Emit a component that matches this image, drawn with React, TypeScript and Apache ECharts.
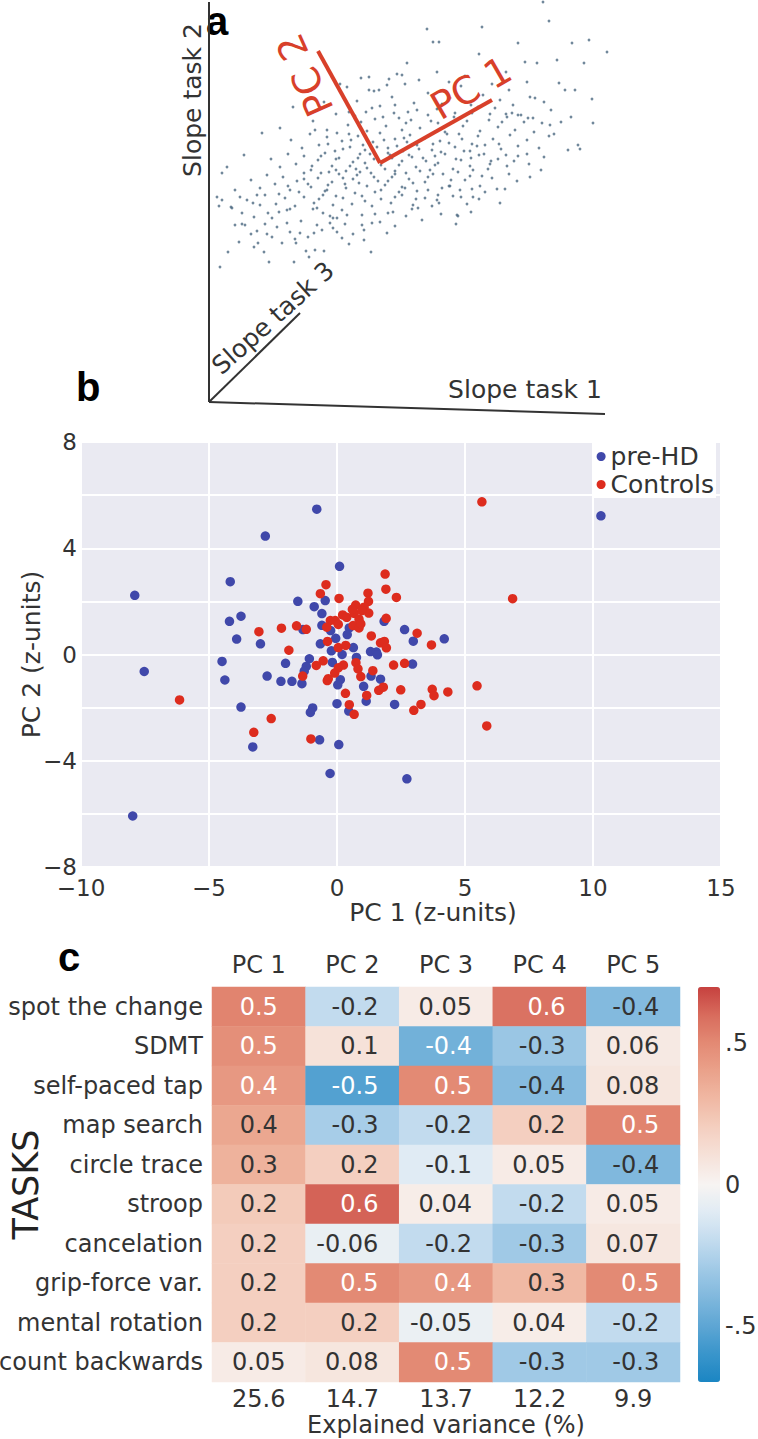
import React, { useEffect, useRef } from 'react';
import * as echarts from 'echarts';

const FONT = 'DejaVu Sans';
const TEXT = '#333333';

// ---------- panel a: illustrative cloud (slope task 1 vs slope task 2, arbitrary units) ----------
const cloudPoints: [number, number][] = [
  [334,400],[340,381],[218,373],[273,375],[224,360],[230,360],[309,359],[363,359],[270,348],[348,342],
  [316,340],[328,339],[198,339],[152,324],[188,328],[193,327],[180,323],[170,312],[165,311],[138,315],
  [350,319],[356,312],[366,312],[321,305],[326,304],[342,292],[362,285],[333,279],[341,277],[324,284],
  [319,284],[309,287],[298,285],[303,289],[291,302],[84,295],[106,272],[71,274],[53,269],[35,247],
  [18,235],[13,229],[8,205],[13,202],[26,212],[23,194],[33,189],[38,202],[48,207],[51,197],
  [59,189],[63,184],[359,252],[369,257],[321,225],[291,199],[276,210],[248,187],[264,205],[228,202],
  [380,362],[398,350],[375,339],[383,303],[384,279],[371,253],
  [11,135],[19,150],[26,177],[33,178],[36,177],[42,168],[48,171],[45,155],[49,159],[58,168],
  [63,165],[68,175],[73,159],[78,179],[81,170],[86,163],[87,159],[91,169],[99,165],[97,151],
  [106,152],[115,151],[105,169],[108,177],[121,179],[124,174],[133,164],[128,170],[121,186],[124,184],
  [128,184],[153,177],[155,172],[155,162],[163,179],[171,180],[162,150],[178,169],[249,186],[247,178],
  [223,196],[209,194],[203,193],[179,189],[184,190],[153,187],[138,187],[133,192],[114,189],[108,194],
  [104,193],[78,192],[81,193],[22,195],[10,196],
  [131,318],[148,301],[160,312],[171,296],[183,305],[196,318],[205,299],[219,309],[228,293],[241,304],
  [252,316],[262,297],[274,307],[286,294],[240,320],[199,290],[157,290],[115,300],[300,312],
  [104,281],[118,272],[127,288],[139,277],[146,286],[158,271],[166,283],[177,276],[185,289],[193,272],
  [202,282],[211,274],[219,287],[229,279],[236,270],[245,285],[254,276],[263,289],[271,271],[280,282],
  [289,275],[297,288],[306,272],[315,280],[325,270],[140,268],[190,284],[250,268],
  [82,262],[93,254],[101,268],[110,257],[118,265],[126,251],[133,261],[141,255],[149,266],[156,252],
  [164,260],[171,269],[179,254],[186,263],[194,251],[201,267],[208,257],[216,264],[223,252],[231,261],
  [238,268],[246,255],[253,263],[261,251],[269,266],[276,257],[284,263],[292,253],[301,267],[309,256],
  [318,262],[330,254],[340,266],[128,269],[198,260],[263,258],
  [62,243],[71,235],[79,248],[87,238],[95,246],[102,232],[109,242],[116,249],[123,236],[130,244],
  [137,231],[144,240],[151,248],[158,234],[165,243],[172,237],[179,249],[186,231],[193,241],[200,247],
  [207,235],[214,244],[221,232],[229,239],[236,248],[244,233],[252,242],[261,236],[270,247],[279,233],
  [289,243],[298,236],[309,246],[320,238],[332,232],[147,233],[183,244],[226,246],
  [42,222],[51,214],[58,227],[66,218],[74,225],[81,212],[88,221],[95,229],[102,215],[109,224],
  [116,211],[123,220],[130,228],[137,214],[144,223],[151,230],[158,216],[165,225],[172,212],[179,221],
  [186,228],[193,215],[200,223],[208,211],[216,220],[224,228],[233,214],[242,222],[251,212],[261,226],
  [271,216],[283,224],[296,213],[308,221],[120,230],[190,210],[150,219],
  [31,205],[44,199],[56,207],[67,198],[76,204],[86,196],[95,205],[105,199],[114,207],[124,197],
  [134,204],[143,198],[153,206],[163,196],[172,203],[182,199],[193,207],[204,197],[216,204],[230,199],
  [244,206],[258,198],[270,203],
  [112,246],[119,258],[127,243],[134,253],[142,262],[149,244],[154,257],[161,248],[168,255],[175,262],
  [181,247],[188,256],[195,264],[203,245],[210,253],[217,241],[224,258],[232,250],[240,259],[247,243],
  [255,251],[262,244],[268,256],[275,248],[282,241],[290,258],[297,247],[305,241],
  [95,223],[103,236],[112,229],[119,217],[127,232],[134,224],[141,236],[148,227],[156,239],[162,229],
  [169,221],[176,233],[183,225],[190,237],[197,229],[204,219],[211,231],[219,225],[226,237],[234,228],
  [241,216],[249,230],[256,222],[264,232],[273,226],[281,238],
  [70,208],[79,216],[90,210],[99,218],[110,203],[118,212],[127,206],[136,218],[146,209],[156,201],
  [166,210],[176,217],[186,205],[196,214],[207,203],[219,212],[229,207],[240,216],[252,205],[263,213],
  [140,290],[152,280],[163,294],[174,285],[186,297],[197,279],[208,292],[222,281],[233,298],[246,289],
  [258,281],[269,295],[281,288],[293,280],[304,297],[312,287],
  [160,325],[178,317],[210,322],[228,330],[256,326],[283,318],[297,330],[318,320],
  [45,185],[56,178],[70,190],[92,181],[113,172],[136,178],[144,168],[166,188],[186,176],[197,186],
  [213,182],[232,188],[30,160],[55,150],[85,140],[60,140],[100,145],[140,158],
  [335,300],[345,268],[352,280],[318,248],[335,245],[300,228],[288,213],[262,190]
];
const axisTask2: [number, number][] = [[0, 400], [0, 0]];
const axisTask1: [number, number][] = [[0, 0], [396, -12]];
const axisTask3: [number, number][] = [[0, 0], [91, 89]];
const pc1Line: [number, number][] = [[171, 239], [283, 302]];
const pc2Line: [number, number][] = [[171, 239], [109, 351]];

// ---------- panel b: PC scores ----------
const preHD: [number, number][] = [
  [-0.79,5.47],[-2.8,4.46],[0.1,3.32],[-4.17,2.74],[-1.53,2.0],[-0.46,2.03],[-0.89,1.8],[-0.59,1.54],
  [-3.75,1.44],[-4.2,1.25],[-1.33,0.94],[-0.59,1.1],[-0.25,0.9],[0.48,1.0],[0.4,0.75],[-0.05,0.61],
  [-3.92,0.58],[-2.99,0.4],[-0.65,0.4],[-0.22,0.14],[0.2,0.0],[0.64,0.26],[0.76,-0.11],[1.31,0.11],
  [1.54,0.09],[1.58,-0.01],[1.84,1.25],[2.64,0.94],[2.98,0.5],[4.19,0.59],[-4.49,-0.26],[-4.38,-0.96],
  [-2.01,-0.33],[-2.73,-0.81],[-2.19,-1.01],[-1.76,-1.01],[-1.37,-1.1],[-1.08,-0.16],[-1.2,-0.45],
  [-1.28,-0.63],[-0.18,-0.3],[0.13,-0.95],[0.03,-1.14],[1.33,-0.81],[1.7,-0.93],[1.04,-1.2],[1.14,-1.76],
  [0.0,-1.85],[0.46,-2.13],[2.25,-1.88],[2.95,-0.36],[-3.75,-1.98],[-0.95,-2.01],[-1.04,-2.18],
  [-0.68,-3.21],[0.07,-3.39],[-3.29,-3.48],[-0.27,-4.48],[2.73,-4.68],[-7.9,2.23],[-7.53,-0.64],
  [-7.98,-6.08],[10.31,5.22]
];
const controls: [number, number][] = [
  [1.88,3.03],[-0.43,2.63],[-0.65,2.29],[0.08,2.11],[1.21,2.31],[1.91,2.46],[2.32,2.15],[1.23,2.0],
  [0.73,1.86],[1.06,1.78],[1.24,1.56],[0.22,1.49],[0.38,1.4],[0.67,1.55],[0.86,1.33],[-0.26,1.28],
  [-0.07,1.28],[0.05,1.13],[-0.4,1.03],[0.63,1.09],[0.86,1.0],[1.92,1.36],[-3.05,0.86],[-2.17,0.99],
  [-1.58,1.08],[-1.2,0.95],[-1.88,0.16],[-0.37,0.49],[0.05,0.26],[0.34,0.34],[1.34,0.7],[1.7,0.44],
  [1.85,0.49],[1.93,0.25],[3.13,0.8],[3.69,0.36],[-0.54,-0.24],[-0.81,-0.41],[0.25,-0.4],[-0.09,-0.7],
  [-0.34,-0.91],[-0.38,-0.98],[-1.34,-0.81],[0.74,-0.31],[0.82,-0.54],[0.93,-0.83],[1.4,-0.61],
  [2.21,-0.4],[2.64,-0.33],[1.63,-1.35],[1.81,-1.23],[1.16,-1.54],[0.33,-1.46],[0.48,-1.89],
  [0.67,-2.25],[2.49,-1.33],[3.72,-1.31],[3.79,-1.55],[4.33,-1.41],[3.28,-1.88],[3.0,-2.1],
  [-2.57,-2.41],[-3.25,-2.93],[-1.02,-3.18],[-6.15,-1.71],[5.66,5.75],[6.86,2.1],[5.47,-1.18],
  [5.85,-2.69],[0.97,1.65],[0.6,1.7],[0.93,1.15],[0.05,-0.5]
];

// ---------- panel c: loadings ----------
const tasks = ['spot the change','SDMT','self-paced tap','map search','circle trace','stroop',
  'cancelation','grip-force var.','mental rotation','count backwards'];
const pcs = ['PC 1','PC 2','PC 3','PC 4','PC 5'];
const variance = ['25.6','14.7','13.7','12.2','9.9'];
const loadings: number[][] = [
  [0.52, -0.2, 0.05, 0.58, -0.39],
  [0.48, 0.1, -0.44, -0.32, 0.06],
  [0.44, -0.53, 0.5, -0.38, 0.08],
  [0.38, -0.28, -0.2, 0.2, 0.52],
  [0.33, 0.2, -0.1, 0.05, -0.4],
  [0.22, 0.62, 0.04, -0.2, 0.05],
  [0.2, -0.06, -0.2, -0.3, 0.07],
  [0.2, 0.5, 0.44, 0.3, 0.5],
  [0.2, 0.2, -0.05, 0.04, -0.2],
  [0.05, 0.08, 0.5, -0.3, -0.3]
];
const cbarTicks = [-0.5, 0, 0.5];
const cbarTickLabels = ['-.5', '0', '.5'];
const cmap = ['#1b86c3','#3a95cb','#5ea6d4','#80b8dd','#a0c9e6','#c2dbee','#e0ebf4','#f7f4f2',
  '#f6e2d9','#f4cfc0','#f0b9a4','#eaa28b','#e38a74','#d86c5d','#c6413f'];

const minusFmt = (v: number) => (v < 0 ? '\u2212' + Math.abs(v) : String(v));

export default function App() {
  const ref = useRef<HTMLDivElement>(null);
  useEffect(() => {
    if (!ref.current) return;
    const chart = echarts.init(ref.current, null, { renderer: 'svg' });

    const heatData: any[] = [];
    loadings.forEach((row, r) => {
      row.forEach((v, c) => {
        const white = Math.abs(v) >= 0.42;
        heatData.push({
          value: [c, r, v],
          label: c === 0
            ? { color: white ? '#ffffff' : TEXT }
            : { color: white ? '#ffffff' : TEXT, align: 'right', offset: [26, 0] }
        });
      });
    });

    const axisLineStyle = { color: '#333333', width: 2 };
    const redLine = { color: '#d8402a', width: 4 };

    chart.setOption({
      animation: false,
      textStyle: { fontFamily: FONT, color: TEXT },
      grid: [
        { left: 209, top: 0, width: 400, height: 417, outerBoundsMode: 'none', containLabel: false },
        { left: 81, top: 442, width: 640, height: 425, show: true, backgroundColor: '#eaeaf2', borderWidth: 0, outerBoundsMode: 'none', containLabel: false },
        { left: 212, top: 987, width: 468, height: 395, outerBoundsMode: 'none', containLabel: false },
        { left: 698, top: 902.36, width: 22, height: 564.29, outerBoundsMode: 'none', containLabel: false }
      ],
      xAxis: [
        { gridIndex: 0, type: 'value', min: 0, max: 400, show: false },
        {
          gridIndex: 1, type: 'value', min: -10, max: 15, interval: 5,
          axisLine: { show: false }, axisTick: { show: false },
          splitLine: { show: true, lineStyle: { color: '#ffffff', width: 2 } },
          axisLabel: { fontSize: 23, color: TEXT, margin: 9, formatter: minusFmt, fontFamily: FONT },
          name: 'PC 1 (z-units)', nameLocation: 'middle', nameGap: 33, nameMoveOverlap: false,
          nameTextStyle: { fontSize: 25, color: TEXT, fontFamily: FONT, padding: [0, 0, 0, 64] }
        },
        {
          gridIndex: 2, type: 'category', data: pcs, position: 'top',
          axisLine: { show: false }, axisTick: { show: false }, splitLine: { show: false },
          axisLabel: { fontSize: 24, color: TEXT, margin: 10, fontFamily: FONT }
        },
        {
          gridIndex: 2, type: 'category', data: variance, position: 'bottom',
          axisLine: { show: false }, axisTick: { show: false }, splitLine: { show: false },
          axisLabel: { fontSize: 24, color: TEXT, margin: 5, fontFamily: FONT },
          name: 'Explained variance (%)', nameLocation: 'middle', nameGap: 31, nameMoveOverlap: false,
          nameTextStyle: { fontSize: 24, color: TEXT, fontFamily: FONT }
        },
        { gridIndex: 3, type: 'value', min: 0, max: 1, show: false }
      ],
      yAxis: [
        { gridIndex: 0, type: 'value', min: -15, max: 402, show: false },
        {
          gridIndex: 1, type: 'value', min: -8, max: 8, interval: 2,
          axisLine: { show: false }, axisTick: { show: false },
          splitLine: { show: true, lineStyle: { color: '#ffffff', width: 2 } },
          axisLabel: {
            fontSize: 23, color: TEXT, margin: 4, fontFamily: FONT,
            formatter: (v: number) => (v % 4 === 0 ? minusFmt(v) : '')
          },
          name: 'PC 2 (z-units)', nameLocation: 'middle', nameGap: 37, nameRotate: 90, nameMoveOverlap: false,
          nameTextStyle: { fontSize: 25, color: TEXT, fontFamily: FONT }
        },
        {
          gridIndex: 2, type: 'category', data: tasks, inverse: true,
          axisLine: { show: false }, axisTick: { show: false }, splitLine: { show: false },
          axisLabel: { fontSize: 24, color: TEXT, margin: 9, fontFamily: FONT },
          name: 'TASKS', nameLocation: 'middle', nameGap: 169, nameRotate: 90, nameMoveOverlap: false,
          nameTextStyle: { fontSize: 35, color: '#222222', fontFamily: FONT }
        },
        {
          gridIndex: 3, type: 'value', min: -1, max: 1, interval: 0.5, position: 'right',
          axisLine: { show: false }, axisTick: { show: false }, splitLine: { show: false },
          axisLabel: {
            fontSize: 24, color: TEXT, margin: 5, fontFamily: FONT,
            formatter: (v: number) => {
              const i = cbarTicks.findIndex((t) => Math.abs(t - v) < 1e-9);
              return i >= 0 ? cbarTickLabels[i] : '';
            }
          }
        }
      ],
      legend: {
        data: ['pre-HD', 'Controls'], orient: 'vertical', right: 42, top: 443,
        backgroundColor: '#ffffff', padding: [1, 2, 1, 4], itemGap: 3,
        itemWidth: 9, itemHeight: 9, icon: 'circle',
        textStyle: { fontSize: 25, color: TEXT, fontFamily: FONT }
      },
      visualMap: {
        type: 'continuous', min: -0.7, max: 0.7, seriesIndex: 8,
        left: 698, top: 987, itemWidth: 22, itemHeight: 395, padding: 0,
        calculable: false, hoverLink: false, inRange: { color: cmap }
      },
      series: [
        {
          type: 'scatter', xAxisIndex: 0, yAxisIndex: 0, data: cloudPoints,
          symbolSize: 2.8, itemStyle: { color: '#4d6a82' }, silent: true
        },
        { type: 'line', xAxisIndex: 0, yAxisIndex: 0, data: axisTask2, symbol: 'none', lineStyle: axisLineStyle, silent: true },
        { type: 'line', xAxisIndex: 0, yAxisIndex: 0, data: axisTask1, symbol: 'none', lineStyle: axisLineStyle, silent: true },
        { type: 'line', xAxisIndex: 0, yAxisIndex: 0, data: axisTask3, symbol: 'none', lineStyle: axisLineStyle, silent: true },
        { type: 'line', xAxisIndex: 0, yAxisIndex: 0, data: pc1Line, symbol: 'none', lineStyle: redLine, silent: true, z: 5 },
        { type: 'line', xAxisIndex: 0, yAxisIndex: 0, data: pc2Line, symbol: 'none', lineStyle: redLine, silent: true, z: 5 },
        {
          name: 'pre-HD', type: 'scatter', xAxisIndex: 1, yAxisIndex: 1, data: preHD,
          symbolSize: 9.5, itemStyle: { color: '#4048aa', opacity: 1 }
        },
        {
          name: 'Controls', type: 'scatter', xAxisIndex: 1, yAxisIndex: 1, data: controls,
          symbolSize: 9.5, itemStyle: { color: '#dd2c1e', opacity: 1 }
        },
        {
          type: 'heatmap', xAxisIndex: 2, yAxisIndex: 2, data: heatData,
          label: {
            show: true, fontSize: 24, fontFamily: FONT,
            formatter: (p: any) => Number(p.value[2]).toPrecision(1)
          },
          emphasis: { disabled: true }
        }
      ],
      graphic: [
        { type: 'text', x: 206, y: 41, style: { text: 'a', fill: '#000', font: 'bold 40px "Liberation Sans"', align: 'left', verticalAlign: 'bottom' } },
        { type: 'text', x: 76, y: 387, style: { text: 'b', fill: '#000', font: 'bold 40px "Liberation Sans"', align: 'left', verticalAlign: 'middle' } },
        { type: 'text', x: 58, y: 957, style: { text: 'c', fill: '#000', font: 'bold 40px "Liberation Sans"', align: 'left', verticalAlign: 'middle' } },
        { type: 'text', x: 192, y: 100, rotation: Math.PI / 2, style: { text: 'Slope task 2', fill: TEXT, font: '25px "DejaVu Sans"', align: 'center', verticalAlign: 'middle' } },
        { type: 'text', x: 525, y: 389, style: { text: 'Slope task 1', fill: TEXT, font: '25px "DejaVu Sans"', align: 'center', verticalAlign: 'middle' } },
        { type: 'text', x: 273, y: 318, rotation: 0.733, style: { text: 'Slope task 3', fill: TEXT, font: '25px "DejaVu Sans"', align: 'center', verticalAlign: 'middle' } },
        { type: 'text', x: 471, y: 88, rotation: 0.524, z: 10, style: { text: 'PC 1', fill: '#d8402a', font: '38px "DejaVu Sans"', align: 'center', verticalAlign: 'middle' } },
        { type: 'text', x: 305, y: 75, rotation: 1.99, z: 10, style: { text: 'PC 2', fill: '#d8402a', font: '38px "DejaVu Sans"', align: 'center', verticalAlign: 'middle' } }
      ]
    });
    return () => chart.dispose();
  }, []);
  return <div ref={ref} style={{ position: 'absolute', left: 0, top: 0, width: 758, height: 1439 }} />;
}
